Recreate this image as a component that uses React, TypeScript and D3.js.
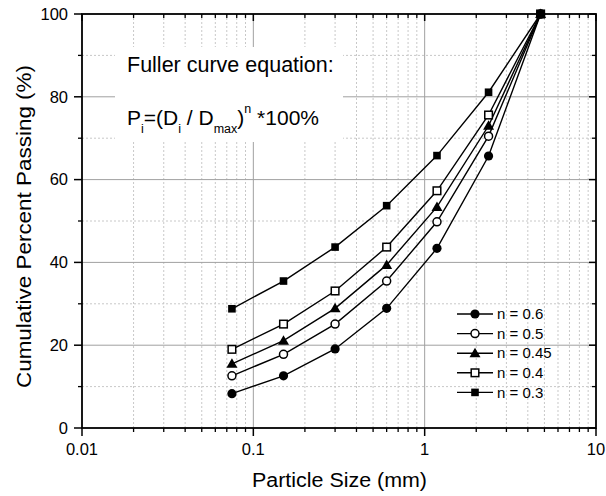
import React from "react";
import * as d3 from "d3";

const sizes = [0.075, 0.15, 0.3, 0.6, 1.18, 2.36, 4.75];
const seriesNames = ["n = 0.6", "n = 0.5", "n = 0.45", "n = 0.4", "n = 0.3"];
const n06 = [8.3, 12.6, 19.1, 28.9, 43.4, 65.7, 100];
const n05 = [12.6, 17.8, 25.1, 35.5, 49.8, 70.5, 100];
const n045 = [15.5, 21.1, 28.9, 39.4, 53.4, 73.0, 100];
const n04 = [19.0, 25.1, 33.1, 43.7, 57.3, 75.6, 100];
const n03 = [28.8, 35.5, 43.7, 53.7, 65.8, 81.1, 100];
const seriesValues = [n06, n05, n045, n04, n03];
const markerTypes = ["circleFill", "circleOpen", "triangle", "squareOpen", "squareFill"];
const xTickLabels = ["0.01", "0.1", "1", "10"];
const yTicks = [0, 20, 40, 60, 80, 100];

const W = 606;
const H = 496;
const L = 82, R = 596, T = 14, B = 428;
const FONT = "'Liberation Sans', Arial, sans-serif";

function Marker({ type, x, y }: { type: string; x: number; y: number }) {
  const s = 3.8;
  switch (type) {
    case "circleFill":
      return <circle cx={x} cy={y} r={4.6} fill="#000" />;
    case "circleOpen":
      return <circle cx={x} cy={y} r={4} fill="#fff" stroke="#000" strokeWidth={1.5} />;
    case "triangle":
      return <path d={`M${x},${y - 5.5}L${x + 5.5},${y + 4}L${x - 5.5},${y + 4}Z`} fill="#000" />;
    case "squareOpen":
      return <rect x={x - s} y={y - s} width={2 * s} height={2 * s} fill="#fff" stroke="#000" strokeWidth={1.5} />;
    default:
      return <rect x={x - s} y={y - s} width={2 * s} height={2 * s} fill="#000" />;
  }
}

export default function App() {
  const x = d3.scaleLog().domain([0.01, 10]).range([L, R]);
  const y = d3.scaleLinear().domain([0, 100]).range([B, T]);
  const majorX = [0.01, 0.1, 1, 10];
  const minorX: number[] = [];
  [0.01, 0.1, 1].forEach((d) => {
    for (let k = 2; k <= 9; k++) minorX.push(d * k);
  });
  const minorY = [10, 30, 50, 70, 90];
  const line = d3
    .line<[number, number]>()
    .x((d) => x(d[0]))
    .y((d) => y(d[1]));

  const legendY0 = 314;
  const legendStep = 19.6;

  return (
    <svg width={W} height={H} style={{ display: "block", position: "absolute", left: 0, top: 0 }} fontFamily={FONT}>
      <rect width={W} height={H} fill="#fff" />
      {/* minor grid */}
      {minorX.map((d, i) => (
        <line key={"mx" + i} x1={x(d)} x2={x(d)} y1={T} y2={B} stroke="#c8c8c8" strokeWidth={1} strokeDasharray="2,2" />
      ))}
      {minorY.map((d, i) => (
        <line key={"my" + i} x1={L} x2={R} y1={y(d)} y2={y(d)} stroke="#c8c8c8" strokeWidth={1} strokeDasharray="2,2" />
      ))}
      {/* major grid */}
      {[0.1, 1].map((d, i) => (
        <line key={"gx" + i} x1={x(d)} x2={x(d)} y1={T} y2={B} stroke="#a0a0a0" strokeWidth={1} />
      ))}
      {[20, 40, 60, 80].map((d, i) => (
        <line key={"gy" + i} x1={L} x2={R} y1={y(d)} y2={y(d)} stroke="#a0a0a0" strokeWidth={1} />
      ))}
      {/* annotation box */}
      <rect x={115} y={47} width={228} height={95} fill="#fff" />
      <text x={127} y={72} fontSize={21.5} fill="#000">Fuller curve equation:</text>
      <text x={127} y={125} fontSize={21} fill="#000">
        P<tspan dy={8} fontSize={12.5}>i</tspan>
        <tspan dy={-8}>=(D</tspan>
        <tspan dy={8} fontSize={12.5}>i</tspan>
        <tspan dy={-8}> / D</tspan>
        <tspan dy={8} fontSize={12.5}>max</tspan>
        <tspan dy={-8}>)</tspan>
        <tspan dy={-12} fontSize={12.5}>n</tspan>
        <tspan dy={12}> *100%</tspan>
      </text>
      {/* series */}
      {seriesValues.map((vals, si) => {
        const pts: [number, number][] = sizes.map((s, i) => [s, vals[i]]);
        return (
          <g key={"s" + si}>
            <path d={line(pts) || ""} fill="none" stroke="#000" strokeWidth={1.4} />
            {pts.map((p, i) => (
              <Marker key={i} type={markerTypes[si]} x={x(p[0])} y={y(p[1])} />
            ))}
          </g>
        );
      })}
      {/* axes frame */}
      <rect x={L} y={T} width={R - L} height={B - T} fill="none" stroke="#000" strokeWidth={1.8} />
      {/* bottom ticks outward, top inward */}
      {majorX.map((d, i) => (
        <g key={"tx" + i}>
          <line x1={x(d)} x2={x(d)} y1={B} y2={B + 8} stroke="#000" strokeWidth={1.5} />
          <line x1={x(d)} x2={x(d)} y1={T} y2={T + 7} stroke="#000" strokeWidth={1.5} />
          <text x={x(d)} y={455} fontSize={16.5} textAnchor="middle" fill="#000">{xTickLabels[i]}</text>
        </g>
      ))}
      {minorX.map((d, i) => (
        <g key={"tmx" + i}>
          <line x1={x(d)} x2={x(d)} y1={B} y2={B + 4} stroke="#000" strokeWidth={1.3} />
          <line x1={x(d)} x2={x(d)} y1={T} y2={T + 4} stroke="#000" strokeWidth={1.3} />
        </g>
      ))}
      {yTicks.map((d, i) => (
        <g key={"ty" + i}>
          <line x1={L - 8} x2={L} y1={y(d)} y2={y(d)} stroke="#000" strokeWidth={1.5} />
          <line x1={R - 7} x2={R} y1={y(d)} y2={y(d)} stroke="#000" strokeWidth={1.5} />
          <text x={L - 14} y={y(d) + 5.8} fontSize={16.5} textAnchor="end" fill="#000">{String(d)}</text>
        </g>
      ))}
      {minorY.map((d, i) => (
        <g key={"tmy" + i}>
          <line x1={L - 4} x2={L} y1={y(d)} y2={y(d)} stroke="#000" strokeWidth={1.3} />
          <line x1={R - 4} x2={R} y1={y(d)} y2={y(d)} stroke="#000" strokeWidth={1.3} />
        </g>
      ))}
      {/* axis titles */}
      <text x={339.5} y={487} fontSize={19.5} textAnchor="middle" textLength={175} lengthAdjust="spacingAndGlyphs" fill="#000">
        Particle Size (mm)
      </text>
      <text
        transform={`translate(31,${(65 + 388) / 2}) rotate(-90)`}
        fontSize={19.5}
        textAnchor="middle"
        textLength={323}
        lengthAdjust="spacingAndGlyphs"
        fill="#000"
      >
        Cumulative Percent Passing (%)
      </text>
      {/* legend */}
      {seriesNames.map((nm, i) => {
        const ly = legendY0 + i * legendStep;
        return (
          <g key={"lg" + i}>
            <line x1={457} x2={493} y1={ly} y2={ly} stroke="#000" strokeWidth={1.4} />
            <Marker type={markerTypes[i]} x={475} y={ly} />
            <text x={497} y={ly + 5.2} fontSize={15} fill="#000">{nm}</text>
          </g>
        );
      })}
    </svg>
  );
}
